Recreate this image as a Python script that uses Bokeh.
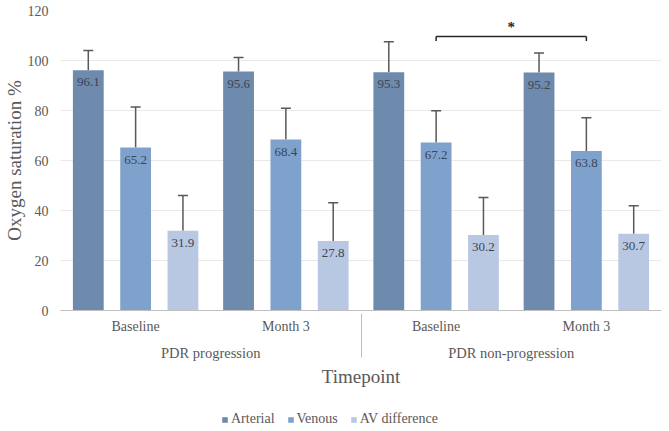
from bokeh.plotting import figure
from bokeh.layouts import column
from bokeh.models import ColumnDataSource, FactorRange, Whisker, TeeHead, Legend, LegendItem, FixedTicker, Range1d
from bokeh.transform import dodge
from bokeh.core.properties import value
from bokeh.embed import file_html
from bokeh.resources import INLINE

# ---- data ----
groups = ["PDR progression", "PDR progression", "PDR non-progression", "PDR non-progression"]
timepoints = ["Baseline", "Month 3", "Baseline", "Month 3"]
series = ["Arterial", "Venous", "AV difference"]
arterial = [96.1, 95.6, 95.3, 95.2]
venous = [65.2, 68.4, 67.2, 63.8]
av_diff = [31.9, 27.8, 30.2, 30.7]
arterial_sd = [7.9, 5.6, 12.2, 7.8]
venous_sd = [16.2, 12.5, 12.7, 13.3]
av_diff_sd = [14.1, 15.3, 15.0, 11.2]
y_ticks = [0, 20, 40, 60, 80, 100, 120]
sig_pair = [("PDR non-progression", "Baseline"), ("PDR non-progression", "Month 3")]
sig_series = "Venous"
sig_level = [109.6]
sig_tick_end = [107.8]
sig_text = ["*"]

colors = ["#6e8aac", "#7fa2cc", "#b9c8e2"]
offsets = [-0.315, 0.0, 0.315]
bar_w = 0.205
FONT = "Liberation Serif"
GREY = "#595959"

factors = list(zip(groups, timepoints))
means = [arterial, venous, av_diff]
sds = [arterial_sd, venous_sd, av_diff_sd]

p = figure(width=663, height=410, x_range=FactorRange(*factors, factor_padding=0, subgroup_padding=0,
                                                       group_padding=0, range_padding=0),
           y_range=(0, 120), output_backend="svg", toolbar_location=None,
           min_border_top=10, min_border_bottom=100, min_border_left=59, min_border_right=2)
p.outline_line_color = None
p.background_fill_color = "white"

for name, vals, sd, col, off in zip(series, means, sds, colors, offsets):
    upper = [v + s for v, s in zip(vals, sd)]
    src = ColumnDataSource(dict(x=factors, top=vals, upper=upper,
                                lbl=[f"{v:.1f}" for v in vals]))
    p.vbar(x=dodge("x", off, range=p.x_range), top="top", width=bar_w, source=src,
           fill_color=col, line_color=None)
    w = Whisker(base=dodge("x", off, range=p.x_range), lower="top", upper="upper", source=src,
                line_color=GREY, line_width=1.5,
                upper_head=TeeHead(size=10, line_color=GREY, line_width=1.5), lower_head=None)
    p.add_layout(w)
    p.text(x=dodge("x", off, range=p.x_range), y="top", text="lbl", source=src,
           text_font=value(FONT), text_font_size="13px", text_color="#3b4555",
           text_align="center", text_baseline="top", y_offset=8)

# significance bracket
si = series.index(sig_series)
so = offsets[si]
bsrc = ColumnDataSource(dict(x0=[sig_pair[0]], x1=[sig_pair[1]], y=sig_level, y1=sig_tick_end, t=sig_text))
p.segment(x0=dodge("x0", so, range=p.x_range), x1=dodge("x1", so, range=p.x_range), y0="y", y1="y",
          source=bsrc, line_color="#262626", line_width=1.5)
p.segment(x0=dodge("x0", so, range=p.x_range), x1=dodge("x0", so, range=p.x_range), y0="y", y1="y1",
          source=bsrc, line_color="#262626", line_width=1.5)
p.segment(x0=dodge("x1", so, range=p.x_range), x1=dodge("x1", so, range=p.x_range), y0="y", y1="y1",
          source=bsrc, line_color="#262626", line_width=1.5)
p.text(x=dodge("x0", 0.5, range=p.x_range), y="y", text="t", source=bsrc,
       text_font=value(FONT), text_font_size="15px", text_color="#262626", text_font_style="bold",
       text_align="center", text_baseline="bottom", y_offset=-2)

# axes
p.yaxis.ticker = FixedTicker(ticks=y_ticks)
p.yaxis.axis_line_color = None
p.yaxis.major_tick_line_color = None
p.yaxis.minor_tick_line_color = None
p.yaxis.major_tick_out = 0
p.yaxis.major_label_text_font = FONT
p.yaxis.major_label_text_font_size = "14px"
p.yaxis.major_label_text_color = GREY
p.yaxis.major_label_standoff = 12
p.yaxis.axis_label = "Oxygen saturation %"
p.yaxis.axis_label_text_font = FONT
p.yaxis.axis_label_text_font_size = "19px"
p.yaxis.axis_label_text_font_style = "normal"
p.yaxis.axis_label_text_color = GREY
p.yaxis.axis_label_standoff = 0

p.xaxis.axis_line_color = "#bfbfbf"
p.xaxis.major_tick_line_color = None
p.xaxis.minor_tick_line_color = None
p.xaxis.major_tick_out = 0
p.xaxis.major_label_standoff = 8
p.xaxis.major_label_text_font = FONT
p.xaxis.major_label_text_font_size = "14px"
p.xaxis.major_label_text_color = GREY
p.xaxis.group_text_font = FONT
p.xaxis.group_text_font_size = "14.5px"
p.xaxis.group_text_font_style = "normal"
p.xaxis.group_text_color = GREY
p.xaxis.separator_line_color = "#bfbfbf"
p.xaxis.separator_line_width = 1
p.xaxis.axis_label = "Timepoint"
p.xaxis.axis_label_text_font = FONT
p.xaxis.axis_label_text_font_size = "19px"
p.xaxis.axis_label_text_font_style = "normal"
p.xaxis.axis_label_text_color = GREY
p.xaxis.axis_label_standoff = 2

p.xgrid.grid_line_color = None
p.ygrid.grid_line_color = "#e9e9e9"
p.ygrid.grid_line_width = 1

# legend strip: zero-area swatch renderers, only used for the legend keys
lg = figure(width=663, height=21, x_range=Range1d(0, 1), y_range=Range1d(0, 1),
            output_backend="svg", toolbar_location=None, min_border=0)
lg.axis.visible = False
lg.grid.visible = False
lg.outline_line_color = None
items = []
for name, col in zip(series, colors):
    r = lg.vbar(x=[0], top=[0], bottom=[0], width=0, fill_color=col, line_color=None)
    items.append(LegendItem(label=name, renderers=[r]))
legend = Legend(items=items, orientation="horizontal", location=(161, 4),
                label_text_font=FONT, label_text_font_size="14px", label_text_color=GREY,
                glyph_width=7, glyph_height=7, label_height=14, spacing=12, label_standoff=3,
                padding=0, margin=0, border_line_color=None, background_fill_alpha=0)
lg.add_layout(legend)

layout = column(p, lg, spacing=0)
open("out.html", "w").write(file_html(layout, INLINE))
